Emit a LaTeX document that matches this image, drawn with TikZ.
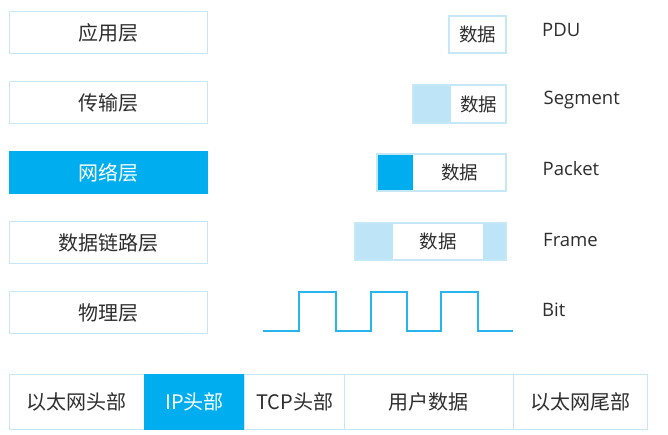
\documentclass[tikz,border=0pt]{standalone}
\usepackage{fontspec}
\setmainfont{Open Sans}
\newfontfamily\cjk{Noto Sans CJK SC}
\definecolor{mainblue}{RGB}{0,174,239}
\definecolor{wireblue}{RGB}{40,180,236}
\definecolor{lightblue}{RGB}{189,229,247}
\definecolor{lineblue}{RGB}{198,231,245}
\definecolor{txt}{RGB}{45,45,45}
\begin{document}
\begin{tikzpicture}[x=1pt,y=-1pt,
  layerbox/.style={draw=lineblue,line width=1.2pt,minimum width=198pt,minimum height=42pt,inner sep=0pt,anchor=north west,text=txt,font=\cjk\fontsize{20}{24}\selectfont},
  netbox/.style={layerbox,fill=mainblue,draw=mainblue,text=white},
  datatext/.style={inner sep=0pt,text=txt,font=\cjk\fontsize{18.5}{22}\selectfont},
  frameline/.style={draw=lineblue,line width=1.2pt},
  hdrlight/.style={fill=lightblue},
  hdrdark/.style={fill=mainblue},
  pdulabel/.style={anchor=base west,inner sep=0pt,text=txt,font=\fontsize{18.5}{22}\selectfont},
  cellbox/.style={draw=lineblue,line width=1.2pt,minimum height=55.5pt,inner sep=0pt,anchor=north west,text=txt,font=\cjk\fontsize{20}{24}\selectfont},
  wave/.style={draw=wireblue,line width=1.6pt}]
\useasboundingbox (0,0) rectangle (668,435);
% layers
\node[layerbox] (app) at (8.5,11) {应用层};
\node[layerbox] (trans) at (8.5,81) {传输层};
\node[netbox] (net) at (8.5,151) {网络层};
\node[layerbox] (link) at (8.5,221) {数据链路层};
\node[layerbox] (phys) at (8.5,291) {物理层};
% PDU
\draw[frameline] (449,16) rectangle (506,53);
\node[datatext] (d1) at (477.5,34.5) {数据};
% Segment
\fill[hdrlight] (413,85) rectangle (451,123);
\draw[frameline] (413,85) rectangle (506,123);
\node[datatext] (d2) at (478.5,104) {数据};
% Packet
\fill[hdrdark] (377,154) rectangle (413,191);
\draw[frameline] (377,154) rectangle (506,191);
\node[datatext] (d3) at (459.5,172.5) {数据};
% Frame
\fill[hdrlight] (355,223) rectangle (393,260);
\fill[hdrlight] (483,223) rectangle (506,260);
\draw[frameline] (355,223) rectangle (506,260);
\node[datatext] (d4) at (438,241.5) {数据};
% Bits
\draw[wave] (263,331) -- (299,331) -- (299,292) -- (336,292) -- (336,331) -- (371,331) -- (371,292) -- (407,292) -- (407,331) -- (441,331) -- (441,292) -- (478,292) -- (478,331) -- (513,331);
% labels
\node[pdulabel] (lpdu) at (542,36.5) {PDU};
\node[pdulabel] (lseg) at (543.5,105) {Segment};
\node[pdulabel] (lpkt) at (542.5,176) {Packet};
\node[pdulabel] (lfrm) at (543,246.5) {Frame};
\node[pdulabel] (lbit) at (542,316.5) {Bit};
% bottom strip
\node[cellbox,minimum width=135.5pt] (eth) at (8.5,373.5) {以太网头部};
\node[cellbox,minimum width=100pt,fill=mainblue,draw=mainblue,text=white] (ip) at (144,373.5) {IP头部};
\node[cellbox,minimum width=100pt] (tcp) at (244,373.5) {TCP头部};
\node[cellbox,minimum width=168.7pt] (user) at (344,373.5) {用户数据};
\node[cellbox,minimum width=134.3pt] (trail) at (512.7,373.5) {以太网尾部};
\end{tikzpicture}
\end{document}
